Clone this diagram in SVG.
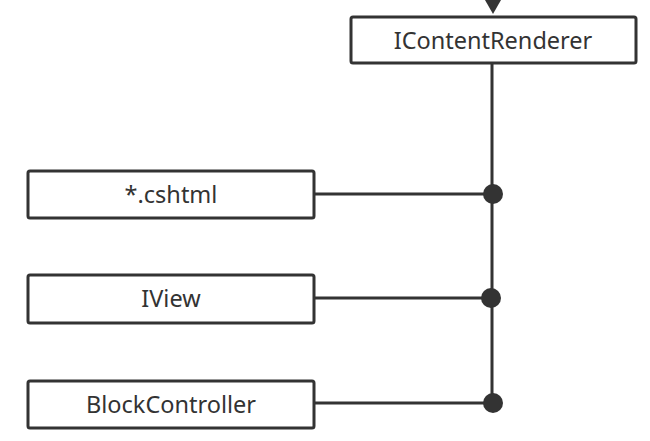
<svg xmlns="http://www.w3.org/2000/svg" width="650" height="441" viewBox="0 0 650 441">
<style>
.box{fill:#fff;stroke:#333;stroke-width:3;stroke-linejoin:round}
.lbl{font-family:"Noto Sans",sans-serif;font-size:23.5px;fill:#333;text-anchor:middle;dominant-baseline:central}
.edge{fill:none;stroke:#333;stroke-width:3}
.dot{fill:#333}
</style>
<rect width="650" height="441" fill="#fff"/>
<g id="connectors">
<path class="edge" d="M493 0 L493 6"/>
<path d="M485 0 L501 0 L493 14 Z" fill="#333"/>
<path class="edge" d="M492 63 L492 403"/>
<path class="edge" d="M314 194 L493 194"/>
<path class="edge" d="M314 298 L491 298"/>
<path class="edge" d="M314 403 L493 403"/>
<circle class="dot" cx="493" cy="194" r="10"/>
<circle class="dot" cx="491" cy="298" r="10"/>
<circle class="dot" cx="493" cy="403" r="10"/>
</g>
<g id="node-icontentrenderer">
<rect class="box" x="351" y="17" width="285" height="46" rx="2"/>
<text class="lbl" x="493" y="40">IContentRenderer</text>
</g>
<g id="node-cshtml">
<rect class="box" x="28" y="171" width="286" height="47" rx="2"/>
<text class="lbl" x="171" y="194">*.cshtml</text>
</g>
<g id="node-iview">
<rect class="box" x="28" y="275" width="286" height="48" rx="2"/>
<text class="lbl" x="171" y="298">IView</text>
</g>
<g id="node-blockcontroller">
<rect class="box" x="28" y="381" width="286" height="47" rx="2"/>
<text class="lbl" x="171" y="404">BlockController</text>
</g>
</svg>
